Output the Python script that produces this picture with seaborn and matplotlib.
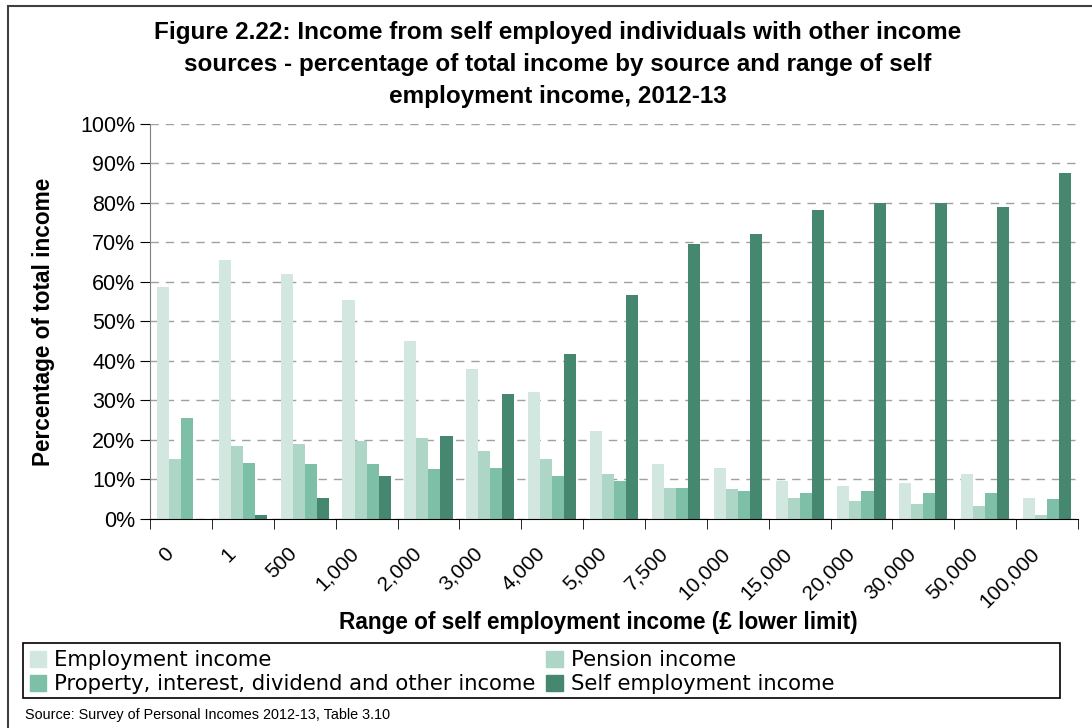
import pandas as pd
import matplotlib.pyplot as plt
import matplotlib as mpl
import seaborn as sns
from matplotlib.patches import Rectangle
from matplotlib.ticker import FixedLocator, PercentFormatter
from matplotlib.transforms import ScaledTranslation

ranges = ['0', '1', '500', '1,000', '2,000', '3,000', '4,000', '5,000', '7,500',
          '10,000', '15,000', '20,000', '30,000', '50,000', '100,000']
employment = [58.7, 65.5, 62.0, 55.4, 45.0, 38.0, 32.2, 22.3, 14.0, 13.0, 9.7, 8.4, 9.2, 11.4, 5.4]
pension = [15.2, 18.5, 19.0, 19.8, 20.5, 17.3, 15.2, 11.4, 7.9, 7.7, 5.4, 4.6, 3.9, 3.4, 1.1]
property_other = [25.6, 14.2, 14.0, 14.0, 12.7, 13.0, 10.9, 9.7, 7.9, 7.2, 6.6, 7.2, 6.6, 6.6, 5.1]
self_employment = [0.0, 1.1, 5.4, 10.9, 21.0, 31.6, 41.8, 56.6, 69.5, 72.1, 78.1, 80.1, 80.1, 78.9, 87.7]

sources = ['Employment income', 'Pension income',
           'Property, interest, dividend and other income', 'Self employment income']
colors = ['#D2E7DF', '#ADD6C6', '#7DBFA7', '#468770']

df = pd.DataFrame({
    'Range': ranges * 4,
    'Source': [s for s in sources for _ in ranges],
    'Share': employment + pension + property_other + self_employment,
})

mpl.rcParams['font.family'] = ['Liberation Sans', 'DejaVu Sans']

fig = plt.figure(figsize=(10.92, 7.28), dpi=100)
ax = fig.add_axes([0.1374, 0.2871, 0.8498, 0.5426])

sns.barplot(data=df, x='Range', y='Share', hue='Source', hue_order=sources,
            palette=colors, width=0.78, gap=0, saturation=1, ax=ax, legend=False)

ax.set_ylim(0, 100)
ax.set_xlim(-0.5, len(ranges) - 0.5)
ax.yaxis.set_major_locator(FixedLocator(range(0, 101, 10)))
ax.yaxis.set_major_formatter(PercentFormatter(decimals=0))
ax.grid(axis='y', color='#a0a0a0', linestyle=(0, (6, 5)), linewidth=1)
ax.set_axisbelow(True)

for s in ['top', 'right']:
    ax.spines[s].set_visible(False)
ax.spines['left'].set_color('#808080')
ax.spines['bottom'].set_color('black')

ax.set_xticks(range(len(ranges)))
ax.set_xticklabels(ranges, rotation=45, ha='right', rotation_mode='anchor')
ax.tick_params(axis='x', length=0, labelsize=15, pad=18)
shift = ScaledTranslation(-17 / 100, 0, fig.dpi_scale_trans)
for lbl in ax.get_xticklabels():
    lbl.set_transform(lbl.get_transform() + shift)
ax.set_xticks([i - 0.5 for i in range(len(ranges) + 1)], minor=True)
ax.tick_params(axis='x', which='minor', length=7, color='black')
ax.tick_params(axis='y', length=7, labelsize=15.5, color='black')

ax.set_xlabel('Range of self employment income (£ lower limit)',
              fontsize=16.3, fontweight='bold', labelpad=0)
ax.xaxis.label.set_x(0.483)
ax.set_ylabel('Percentage of total income', fontsize=16.3, fontweight='bold', labelpad=18)

fig.text(0.511, 0.971, 'Figure 2.22: Income from self employed individuals with other income\n'
         'sources - percentage of total income by source and range of self\n'
         'employment income, 2012-13',
         ha='center', va='top', fontsize=17.5, fontweight='bold', linespacing=1.5)

# row-major order like the original: Employment | Pension / Property | Self
order = [0, 2, 1, 3]
handles = [Rectangle((0, 0), 1, 1, color=colors[i]) for i in order]
labels = [sources[i] for i in order]
leg = fig.legend(handles, labels, ncol=2, loc='upper left',
                 bbox_to_anchor=(30 / 1092, 1 - 650 / 728),
                 prop={'family': 'DejaVu Sans', 'size': 15.2}, frameon=False,
                 handlelength=0.78, handleheight=0.78, handletextpad=0.38,
                 columnspacing=0.5, labelspacing=0.2, borderpad=0, borderaxespad=0)

fig.patches.append(Rectangle((23 / 1092, 1 - 698 / 728), 1037 / 1092, 55 / 728,
                             transform=fig.transFigure, fill=False,
                             edgecolor='black', linewidth=1.2))

fig.text(0.023, 0.013, 'Source: Survey of Personal Incomes 2012-13, Table 3.10', fontsize=10.4)

fig.patches.append(Rectangle((0.0075, -0.05), 1.1, 1.0418, transform=fig.transFigure,
                             fill=False, edgecolor='#404040', linewidth=1.5))

fig.savefig('out.png', dpi=100)
